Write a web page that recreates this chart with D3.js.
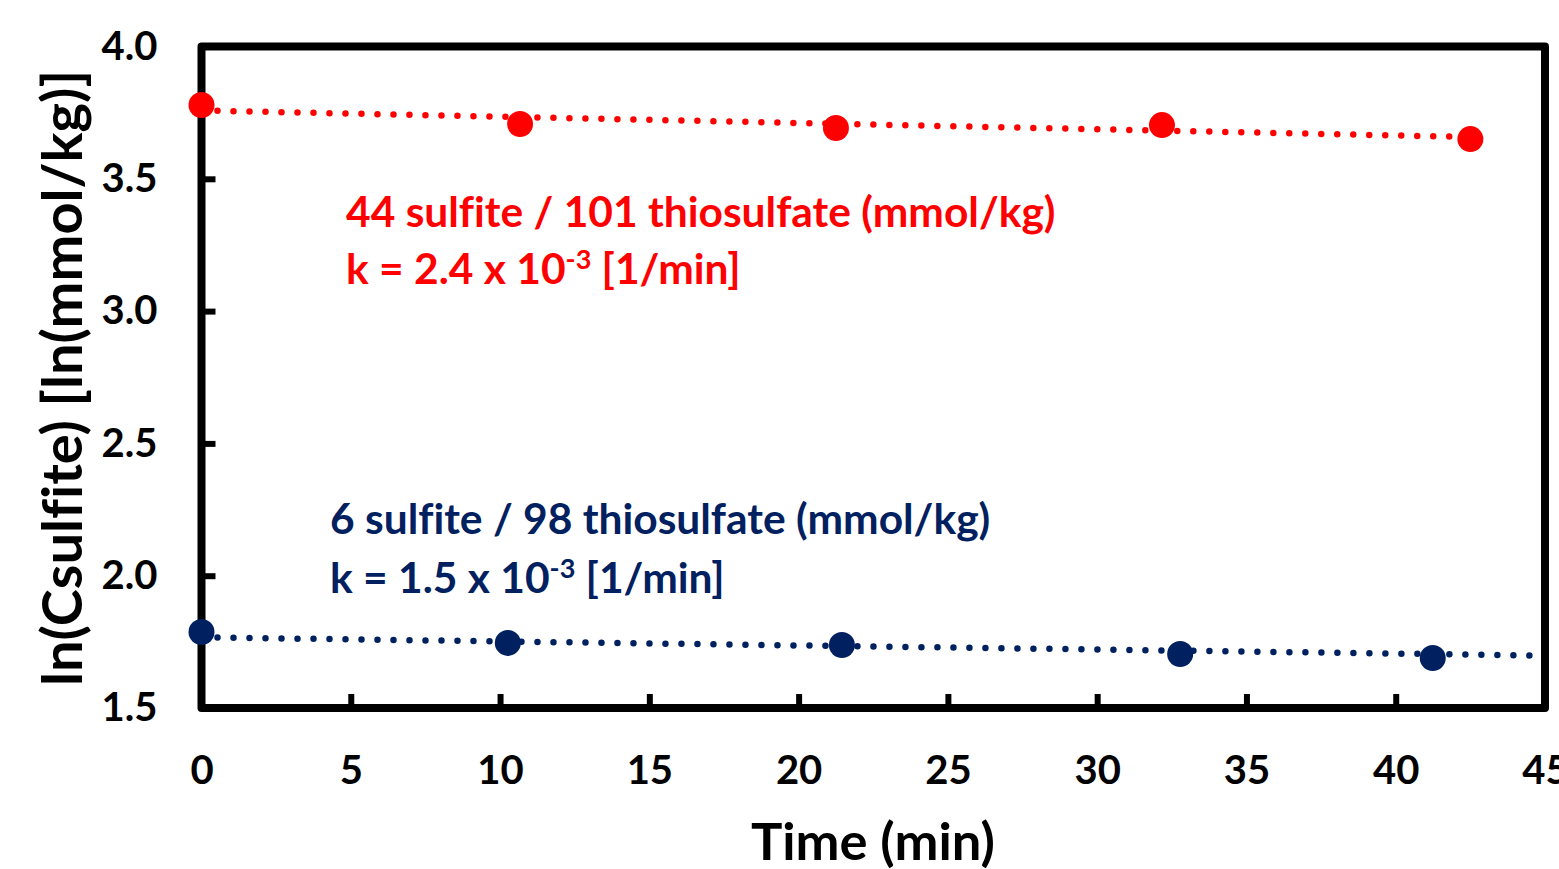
<!DOCTYPE html>
<html>
<head>
<meta charset="utf-8">
<script src="https://cdn.jsdelivr.net/npm/d3@7"></script>
<style>
  html, body { margin: 0; padding: 0; background: #fff; }
  text { font-family: Lato, "Open Sans", sans-serif; font-weight: bold; font-variant-ligatures: none; }
</style>
</head>
<body>
<div id="chart"></div>
<script>
// data
let timeHigh = [0, 10.67, 21.25, 32.17, 42.5];
let lnHigh = [3.779, 3.707, 3.692, 3.703, 3.650];
let timeLow = [0, 10.26, 21.45, 32.78, 41.24];
let lnLow = [1.787, 1.746, 1.738, 1.704, 1.689];

// trendline end points (as drawn in the picture)
let trendHigh = [[0, 3.758], [42.5, 3.658]];
let trendLow = [[0, 1.767], [45, 1.698]];

let xTicks = [0, 5, 10, 15, 20, 25, 30, 35, 40, 45];
let yTicks = [1.5, 2.0, 2.5, 3.0, 3.5, 4.0];

let labelHigh = ["44 sulfite / 101 thiosulfate (mmol/kg)", "k = 2.4 x 10", "-3", " [1/min]"];
let labelLow = ["6 sulfite / 98 thiosulfate (mmol/kg)", "k = 1.5 x 10", "-3", " [1/min]"];

let red = "#ff0000";
let navy = "#002060";

let W = 1559, H = 869;
let plotL = 201.5, plotR = 1545, plotT = 46.5, plotB = 708;

let svg = d3.select("#chart").append("svg")
    .attr("width", W)
    .attr("height", H);

let x = d3.scaleLinear().domain([0, 45]).range([plotL, plotR]);
let y = d3.scaleLinear().domain([1.5, 4.0]).range([plotB, plotT]);

// axes, ticks pointing inward
let yAxis = svg.append("g")
    .attr("transform", "translate(" + plotL + ",0)")
    .call(d3.axisLeft(y).tickValues(yTicks).tickFormat(d3.format(".1f")).tickSize(-14).tickPadding(44));
let xAxis = svg.append("g")
    .attr("transform", "translate(0," + plotB + ")")
    .call(d3.axisBottom(x).tickValues(xTicks).tickSize(-14).tickPadding(48));

[xAxis, yAxis].forEach(function(a) {
    a.select(".domain").remove();
    a.selectAll("line").attr("stroke", "#000").attr("stroke-width", 6);
    a.selectAll("text").attr("fill", "#000").style("font-size", "40px");
});

// frame
svg.append("rect")
    .attr("x", plotL)
    .attr("y", plotT)
    .attr("width", plotR - plotL)
    .attr("height", plotB - plotT)
    .attr("fill", "none")
    .attr("stroke", "#000")
    .attr("stroke-width", 8)
    .attr("stroke-linejoin", "round");

let line = d3.line().x(function(d) { return x(d[0]); }).y(function(d) { return y(d[1]); });

function drawSeries(times, vals, trend, color) {
    svg.append("path")
        .attr("d", line(trend))
        .attr("fill", "none")
        .attr("stroke", color)
        .attr("stroke-width", 6.5)
        .attr("stroke-linecap", "round")
        .attr("stroke-dasharray", "0 16");

    svg.append("g").selectAll("circle")
        .data(times)
        .enter().append("circle")
        .attr("cx", function(d) { return x(d); })
        .attr("cy", function(d, i) { return y(vals[i]); })
        .attr("r", 13)
        .attr("fill", color);
}

drawSeries(timeHigh, lnHigh, trendHigh, red);
drawSeries(timeLow, lnLow, trendLow, navy);

function drawLabel(lbl, color, x0, y0, y1) {
    svg.append("text")
        .attr("x", x0).attr("y", y0)
        .attr("fill", color)
        .style("font-size", "42.5px")
        .text(lbl[0]);
    let t = svg.append("text")
        .attr("x", x0).attr("y", y1)
        .attr("fill", color)
        .style("font-size", "42.5px");
    t.append("tspan").text(lbl[1]);
    t.append("tspan").attr("dy", -15).style("font-size", "27px").text(lbl[2]);
    t.append("tspan").attr("dy", 15).text(lbl[3]);
}

drawLabel(labelHigh, red, 346, 227, 284);
drawLabel(labelLow, navy, 330, 534, 593);

// axis titles
svg.append("text")
    .attr("x", 873)
    .attr("y", 860)
    .attr("text-anchor", "middle")
    .style("font-size", "52.5px")
    .text("Time (min)");

svg.append("text")
    .attr("transform", "translate(82,378) rotate(-90)")
    .attr("text-anchor", "middle")
    .style("font-size", "56px")
    .text("ln(Csulfite) [ln(mmol/kg)]");
</script>
</body>
</html>
